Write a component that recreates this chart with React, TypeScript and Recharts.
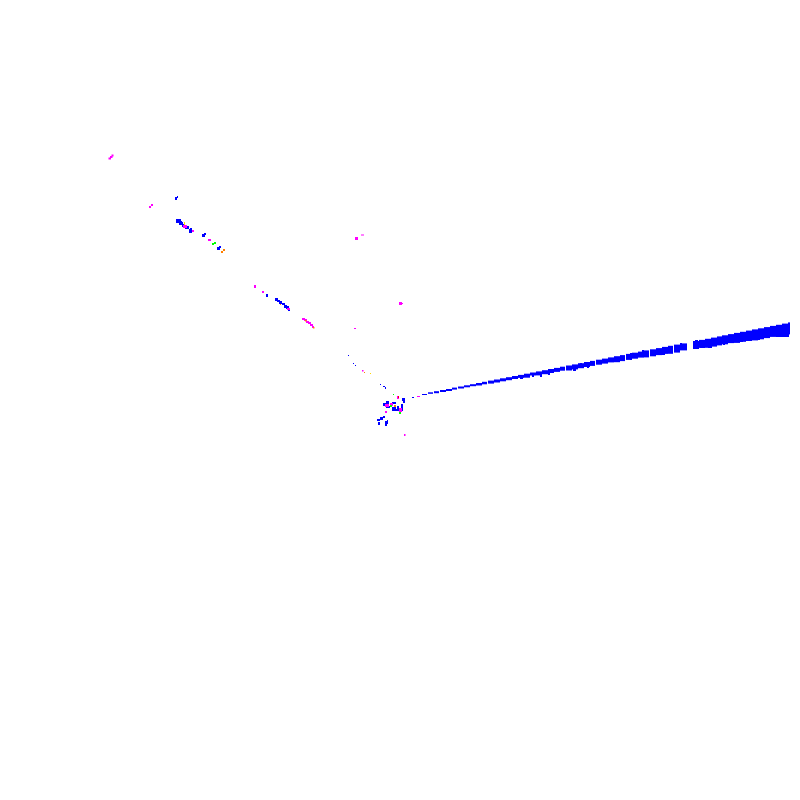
import React from "react";
import { ScatterChart, Scatter, XAxis, YAxis } from "recharts";

// Blue wedge band: [x, yTop, height, width]
const blueBand: number[][] = [
  [422, 394, 1, 5], [428, 392.3, 1.5, 5], [434, 391.2, 2, 5], [440, 390, 2, 6], [446, 389, 2, 6],
  [452, 387.6, 2, 5], [458, 386.5, 2, 6], [464, 385.3, 2, 6], [470, 384.2, 2, 6], [476, 383, 2.5, 6],
  [482, 381.8, 2.5, 5], [488, 380.6, 3, 6], [494, 379.5, 3, 6], [500, 378.3, 3, 6], [506, 377.2, 3, 6],
  [512, 376, 3, 6], [518, 374.9, 3, 6], [524, 373.7, 4, 6], [530, 372.5, 3, 6], [536, 371.4, 4, 6],
  [542, 370.2, 4, 6], [548, 369, 4, 6], [554, 367.9, 4, 6], [560, 366.7, 4, 5], [566, 365.5, 5, 6],
  [572, 364.4, 5, 6], [578, 363.2, 5, 6], [584, 362, 5, 6], [590, 360.9, 5, 5], [596, 359.7, 5, 6],
  [602, 358.6, 5, 6], [608, 357.4, 5, 6], [614, 356.2, 6, 6], [620, 355.1, 6, 5], [626, 353.9, 6, 6],
  [632, 352.7, 6, 6], [638, 351.6, 6, 6], [644, 350.4, 7, 5], [650, 349.3, 7, 6], [656, 348.1, 7, 6],
  [662, 346.9, 7, 6], [668, 345.8, 8, 5], [674, 344.6, 8, 6], [680, 343.4, 7, 7],
  [693, 341, 8, 6], [699, 339.9, 8, 6], [705, 338.8, 9, 6], [711, 337.6, 9, 6], [717, 336.4, 9, 5],
  [722, 335.3, 9, 6], [728, 334.1, 9, 6], [734, 332.9, 10, 6], [740, 331.8, 10, 6], [746, 330.6, 10, 6],
  [752, 329.4, 11, 6], [758, 328.3, 11, 6], [764, 327.1, 11, 6], [770, 325.9, 11, 6], [776, 324.8, 12, 6],
  [782, 323.6, 12, 6], [788, 322.4, 12, 2],
];

// Hanging ticks under the band: [x, y, w, h]
const blueTicks: number[][] = [
  [520, 375, 3, 4], [532, 373, 2, 4], [540, 372, 2, 5], [548, 369, 2, 6],
  [573, 365, 3, 6], [580, 363, 2, 4], [587, 363, 2, 5], [630, 353, 2, 7],
  [642, 350, 2, 6], [662, 347, 3, 8], [676, 345, 2, 7], [680, 343, 2, 6],
  [695, 340, 3, 9], [700, 343, 5, 5], [708, 341, 4, 7], [723, 338, 2, 7],
  [730, 337, 3, 6], [740, 335, 3, 7], [745, 333, 7, 8], [755, 332, 5, 8],
  [776, 327, 13, 10],
];

// Scattered blobs: [x, y, w, h]
const blueBlobs: number[][] = [
  [175, 197, 2, 3], [177, 196, 1, 2], [176, 219, 5, 4], [179, 221, 3, 4],
  [180, 222, 3, 3], [182, 224, 3, 3], [185, 226, 4, 3], [189, 229, 3, 4],
  [190, 228, 2, 2], [202, 234, 3, 3], [204, 233, 2, 2], [217, 247, 3, 3],
  [219, 246, 2, 2], [266, 294, 2, 3], [275, 298, 3, 3], [277, 300, 3, 2],
  [279, 301, 3, 3], [282, 303, 3, 2], [284, 305, 3, 3], [286, 306, 3, 3],
  [288, 308, 2, 3], [348, 355, 1, 1], [353, 363, 1, 1], [355, 365, 1, 1],
  [380, 384, 1, 1], [383, 386, 2, 1], [385, 387, 1, 2], [402, 398, 3, 3],
  [403, 401, 2, 2], [412, 397, 2, 1], [383, 403, 3, 3], [386, 401, 3, 4],
  [392, 402, 4, 2], [386, 406, 4, 2], [392, 407, 4, 2], [397, 406, 2, 5],
  [401, 404, 2, 7], [392, 409, 5, 2], [377, 419, 3, 2], [380, 417, 3, 3],
  [383, 416, 2, 2], [378, 422, 2, 3], [385, 421, 2, 5], [387, 420, 1, 4],
];
const magentaBlobs: number[][] = [
  [108.5, 157.5, 2.5, 2], [110, 156, 2.5, 2], [111.5, 154.5, 2, 2],
  [149, 206, 2, 2], [151, 204, 2, 2], [183, 225, 4, 3], [192, 230, 2, 2],
  [208, 239, 3, 2], [254, 285, 2, 3], [262, 291, 2, 2], [355, 237, 3, 3],
  [361, 234.5, 3, 1], [399, 302, 3, 3], [402, 303, 1, 1], [354, 328, 2, 1],
  [302, 318, 3, 2], [304, 319, 3, 2], [306, 321, 3, 2], [308, 322, 3, 2],
  [310, 324, 3, 2], [312, 326, 2, 2], [287, 308, 3, 2], [362, 370, 1.5, 1.5],
  [397, 396, 2, 3], [417, 396, 3, 1], [385, 404, 4, 3], [390, 403, 3, 3],
  [399, 408, 3, 4], [385, 411, 2, 2], [404, 434, 1.5, 2],
];
const greenBlobs: number[][] = [
  [212, 243, 2, 2], [214, 242, 2, 2], [393, 394, 1, 1], [390, 405, 2, 2], [399, 412, 2, 2],
];
const orangeBlobs: number[][] = [
  [221, 251, 2, 2], [223, 249, 2, 2], [305, 320, 1.5, 1.5], [313, 327, 1.5, 1.5],
  [364, 372, 1, 1], [394, 405, 2, 2], [280, 304, 1, 1],
];
const yellowBlobs: number[][] = [[184, 222, 1, 3], [370, 373, 1, 1]];
const redBlobs: number[][] = [[398, 396, 1, 2]];

const toRects = (rows: number[][]) => rows.map(([x, y, w, h]) => ({ x, y, w, h }));
const bandRects = blueBand.map(([x, y, h, w]) => ({ x, y, w, h }));

const makeShape = (color: string) => (props: any) => {
  const { cx, cy, payload } = props;
  if (cx == null || cy == null) return <g />;
  return <rect x={cx} y={cy} width={payload.w} height={payload.h} fill={color} />;
};

const series = [
  { name: "band", data: bandRects, color: "#0000ff" },
  { name: "ticks", data: toRects(blueTicks), color: "#0000ff" },
  { name: "blue", data: toRects(blueBlobs), color: "#0000ff" },
  { name: "magenta", data: toRects(magentaBlobs), color: "#ff00ff" },
  { name: "green", data: toRects(greenBlobs), color: "#00ff00" },
  { name: "orange", data: toRects(orangeBlobs), color: "#ff8000" },
  { name: "yellow", data: toRects(yellowBlobs), color: "#ffd700" },
  { name: "red", data: toRects(redBlobs), color: "#ff0000" },
];

export default function App() {
  return (
    <div style={{ position: "absolute", left: 0, top: 0, width: 800, height: 800, background: "#fff" }}>
      <ScatterChart width={800} height={800} margin={{ top: 0, right: 0, bottom: 0, left: 0 }}>
        <XAxis type="number" dataKey="x" domain={[0, 800]} hide />
        <YAxis type="number" dataKey="y" domain={[0, 800]} reversed hide />
        {series.map((s) => (
          <Scatter key={s.name} name={s.name} data={s.data} shape={makeShape(s.color)} isAnimationActive={false} />
        ))}
      </ScatterChart>
    </div>
  );
}
